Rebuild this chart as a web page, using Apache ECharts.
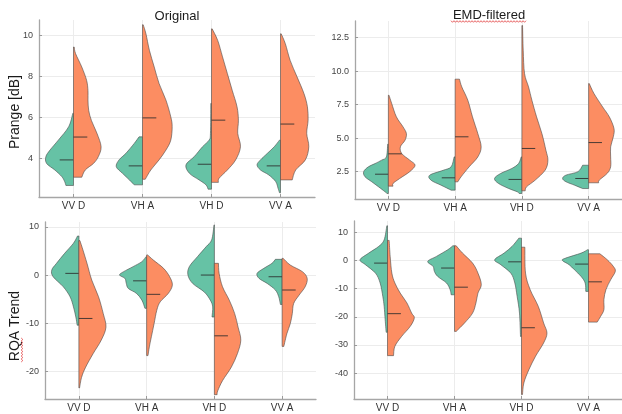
<!DOCTYPE html>
<html>
<head>
<meta charset="utf-8">
<script src="https://cdn.jsdelivr.net/npm/echarts@6/dist/echarts.min.js"></script>
<style>
  html, body { margin: 0; padding: 0; background: #fff; }
  #chart { width: 622px; height: 414px; }
</style>
</head>
<body>
<div id="chart"></div>
<script>
// ---- labels ----
const categories = ['VV D', 'VH A', 'VH D', 'VV A'];
const columnTitles = ['Original', 'EMD-filtered'];
const rowNames = ['Prange [dB]', 'RQA Trend'];

// ---- y tick values ----
const prangeOrigTicks = [4, 6, 8, 10];
const prangeEmdTicks = [2.5, 5, 7.5, 10, 12.5];
const rqaOrigTicks = [-20, -10, 0, 10];
const rqaEmdTicks = [-40, -30, -20, -10, 0, 10];

// ---- violin halves: [value, half width in category spacing], top to bottom ----
// Prange, original
const prangeOrigLeft = [
  [[6.2,0.01],[5.55,0.07],[4.9,0.22],[4.42,0.34],[4.1,0.40],[3.77,0.39],[3.45,0.27],[3.13,0.17],[2.9,0.13],[2.7,0.11]],
  [[5.06,0.05],[4.74,0.12],[4.26,0.24],[3.94,0.34],[3.61,0.38],[3.29,0.29],[2.97,0.19],[2.73,0.12]],
  [[6.68,0.01],[5.23,0.015],[4.9,0.035],[4.58,0.13],[4.1,0.25],[3.7,0.37],[3.29,0.32],[2.97,0.18],[2.73,0.08],[2.52,0.05]],
  [[4.9,0.015],[4.58,0.09],[4.26,0.19],[3.94,0.29],[3.7,0.34],[3.45,0.29],[3.21,0.17],[2.89,0.07],[2.56,0.035],[2.35,0.015]]
];
const prangeOrigRight = [
  [[9.42,0.01],[9.1,0.03],[8.45,0.12],[7.8,0.19],[7.3,0.21],[6.85,0.21],[6.35,0.22],[5.85,0.26],[5.23,0.34],[4.58,0.40],[4.1,0.36],[3.77,0.29],[3.45,0.17],[3.1,0.12]],
  [[10.5,0.01],[10.06,0.05],[9.26,0.10],[8.45,0.17],[7.65,0.24],[6.84,0.34],[6.03,0.41],[5.55,0.43],[4.9,0.41],[4.42,0.34],[3.94,0.24],[3.45,0.12],[3.0,0.04]],
  [[10.3,0.01],[9.74,0.09],[8.94,0.16],[8.13,0.23],[7.32,0.30],[6.52,0.37],[5.87,0.39],[5.23,0.38],[4.58,0.42],[3.94,0.35],[3.45,0.23],[3.05,0.11],[2.85,0.1]],
  [[10.06,0.01],[9.58,0.07],[8.77,0.14],[7.97,0.24],[7.16,0.34],[6.52,0.39],[5.87,0.40],[5.23,0.38],[4.58,0.41],[3.94,0.36],[3.45,0.22],[2.97,0.17]]
];
const prangeOrigLeftMedian = [3.94, 3.65, 3.73, 3.65];
const prangeOrigRightMedian = [5.05, 5.98, 5.87, 5.68];

// Prange, EMD-filtered
const prangeEmdLeft = [
  [[4.55,0.01],[3.6,0.03],[3.36,0.10],[3.1,0.20],[2.86,0.30],[2.5,0.37],[2.12,0.35],[1.75,0.25],[1.38,0.15],[1.0,0.05],[0.87,0.02]],
  [[3.6,0.015],[2.86,0.06],[2.6,0.18],[2.24,0.38],[1.86,0.36],[1.49,0.21],[1.12,0.06]],
  [[3.6,0.01],[3.1,0.05],[2.74,0.15],[2.36,0.32],[1.99,0.41],[1.62,0.35],[1.25,0.20],[1.0,0.07],[0.87,0.04]],
  [[2.98,0.09],[2.5,0.16],[2.24,0.34],[1.99,0.39],[1.75,0.34],[1.49,0.21],[1.24,0.09]]
];
const prangeEmdRight = [
  [[8.2,0.01],[7.58,0.05],[6.59,0.12],[5.84,0.22],[5.34,0.27],[4.85,0.25],[4.35,0.18],[3.85,0.20],[3.36,0.32],[2.98,0.40],[2.5,0.32],[1.99,0.17],[1.62,0.07],[1.42,0.07]],
  [[9.4,0.065],[8.82,0.10],[7.83,0.19],[6.59,0.26],[5.34,0.34],[4.35,0.39],[3.6,0.34],[2.86,0.21],[2.12,0.09],[1.74,0.04]],
  [[13.4,0.01],[11.56,0.02],[9.82,0.04],[8.82,0.10],[7.83,0.15],[6.59,0.22],[5.34,0.30],[4.1,0.36],[3.36,0.39],[2.62,0.35],[1.87,0.20],[1.37,0.07],[1.07,0.05]],
  [[9.07,0.01],[8.33,0.08],[7.33,0.21],[6.59,0.31],[5.72,0.38],[5.1,0.37],[4.35,0.33],[3.6,0.33],[2.86,0.33],[2.38,0.28],[1.87,0.16],[1.67,0.15]]
];
const prangeEmdLeftMedian = [2.31, 2.04, 1.92, 1.99];
const prangeEmdRightMedian = [3.83, 5.1, 4.23, 4.67];

// RQA trend, original
const rqaOrigLeft = [
  [[8.1,0.02],[6.6,0.08],[4.5,0.21],[2.43,0.33],[1.04,0.40],[-0.35,0.38],[-2.43,0.23],[-4.5,0.13],[-6.6,0.08],[-8.7,0.045],[-10.4,0.025]],
  [[3.8,0.01],[2.78,0.07],[1.74,0.20],[0.7,0.34],[0,0.40],[-0.7,0.32],[-1.74,0.30],[-2.78,0.27],[-3.8,0.15],[-5.2,0.07],[-6.9,0.025]],
  [[10.4,0.005],[7.3,0.04],[5.9,0.12],[3.8,0.25],[1.74,0.37],[0,0.39],[-1.74,0.32],[-3.5,0.15],[-5.2,0.06],[-6.6,0.025],[-8.7,0.035]],
  [[3.26,0.10],[2.43,0.15],[1.39,0.27],[0.35,0.37],[-0.7,0.34],[-1.74,0.22],[-3.1,0.10],[-4.5,0.05],[-6.1,0.025]]
];
const rqaOrigRight = [
  [[7.15,0.015],[5.2,0.06],[2.43,0.12],[-1.04,0.19],[-4.5,0.29],[-8.0,0.36],[-10.8,0.40],[-13.5,0.33],[-16.3,0.21],[-19.1,0.10],[-21.2,0.04],[-23.4,0.01]],
  [[4.17,0.015],[3.1,0.10],[1.39,0.25],[-0.35,0.34],[-2.08,0.38],[-3.8,0.32],[-5.56,0.20],[-7.3,0.15],[-10.1,0.11],[-12.8,0.07],[-14.9,0.04],[-16.7,0.02]],
  [[2.43,0.06],[0.35,0.07],[-2.43,0.12],[-5.2,0.22],[-8.0,0.30],[-10.8,0.35],[-13.5,0.39],[-16.3,0.34],[-19.1,0.25],[-21.9,0.12],[-24.0,0.05],[-24.8,0.04]],
  [[3.47,0.015],[2.08,0.12],[0.7,0.30],[-0.7,0.37],[-2.43,0.34],[-4.17,0.25],[-5.9,0.17],[-8.0,0.15],[-10.1,0.12],[-12.15,0.07],[-14.8,0.025]]
];
const rqaOrigLeftMedian = [0.35, -1.2, 0, -0.35];
const rqaOrigRightMedian = [-9.0, -4.0, -12.6, -3.1];

// RQA trend, EMD-filtered
const rqaEmdLeft = [
  [[12.3,0.01],[7.3,0.05],[5.0,0.13],[2.6,0.28],[0.24,0.41],[-1.5,0.33],[-4.5,0.18],[-8.0,0.11],[-12.8,0.07],[-16.3,0.05],[-21,0.035],[-25.5,0.02]],
  [[5.2,0.025],[3.8,0.10],[1.42,0.27],[-0.35,0.40],[-2.1,0.32],[-3.9,0.30],[-5.7,0.25],[-8.0,0.12],[-10.4,0.065],[-12.2,0.05]],
  [[7.9,0.04],[5.0,0.14],[2.6,0.26],[0.24,0.40],[-1.5,0.31],[-4.5,0.16],[-8.0,0.10],[-12.8,0.065],[-18.7,0.03],[-27,0.015]],
  [[3.8,0.015],[2.6,0.11],[0.83,0.34],[0,0.39],[-1.5,0.29],[-3.3,0.21],[-5.7,0.11],[-8.0,0.05],[-11,0.04]]
];
const rqaEmdRight = [
  [[7.1,0.025],[1.4,0.04],[-4.5,0.065],[-8.0,0.11],[-11.6,0.19],[-15.1,0.29],[-18.7,0.36],[-20.4,0.40],[-23.4,0.34],[-27,0.21],[-30.5,0.11],[-33.8,0.09]],
  [[5.2,0.025],[2.6,0.12],[-0.95,0.27],[-4.5,0.35],[-8.6,0.40],[-11.6,0.35],[-15.1,0.32],[-18.7,0.27],[-22.2,0.15],[-25.2,0.025]],
  [[4.7,0.05],[-4.5,0.06],[-10.4,0.13],[-16.3,0.25],[-22.2,0.33],[-25.8,0.38],[-29.3,0.33],[-34,0.21],[-38.8,0.11],[-43.5,0.035],[-47.6,0.015]],
  [[2.36,0.17],[0.24,0.28],[-2.1,0.37],[-3.9,0.40],[-6.9,0.33],[-10.4,0.26],[-13.9,0.23],[-17.5,0.23],[-19.9,0.18],[-21.9,0.13]]
];
const rqaEmdLeftMedian = [-0.95, -2.7, -0.5, -1.3];
const rqaEmdRightMedian = [-18.9, -9.5, -23.9, -7.6];

// ---- styling ----
const LEFT_COLOR = '#66c2a5';
const RIGHT_COLOR = '#fc8d62';
const MEDIAN_LEN = 0.2;
const FONT = 'Liberation Sans, Arial, sans-serif';

const panels = [
  { grid: { left: 39, top: 20, width: 276, height: 177 }, yMin: 2.14, yMax: 10.73, ticks: prangeOrigTicks, fmt: v => String(v),
    left: prangeOrigLeft, right: prangeOrigRight, leftMed: prangeOrigLeftMedian, rightMed: prangeOrigRightMedian,
    title: columnTitles[0], titleY: 16, yName: rowNames[0], nameX: 15, nameY: 112 },
  { grid: { left: 355, top: 21, width: 268, height: 178 }, yMin: 0.46, yMax: 13.74, ticks: prangeEmdTicks, fmt: v => v.toFixed(1),
    left: prangeEmdLeft, right: prangeEmdRight, leftMed: prangeEmdLeftMedian, rightMed: prangeEmdRightMedian,
    title: columnTitles[1], titleY: 15 },
  { grid: { left: 45, top: 222, width: 271, height: 177 }, yMin: -25.7, yMax: 11, ticks: rqaOrigTicks, fmt: v => String(v),
    left: rqaOrigLeft, right: rqaOrigRight, leftMed: rqaOrigLeftMedian, rightMed: rqaOrigRightMedian,
    yName: rowNames[1], nameX: 15, nameY: 326 },
  { grid: { left: 354, top: 221, width: 269, height: 178 }, yMin: -49.2, yMax: 14, ticks: rqaEmdTicks, fmt: v => String(v),
    left: rqaEmdLeft, right: rqaEmdRight, leftMed: rqaEmdLeftMedian, rightMed: rqaEmdRightMedian }
];

// Smooth half-violin outline through profile points (Catmull-Rom -> cubic Bezier)
function halfViolinRenderer(profiles, medians, side, color) {
  return function (params, api) {
    const i = params.dataIndex;
    const prof = profiles[i];
    const cx = i + 1;
    const c0 = api.coord([cx, prof[0][0]]);
    const centerPx = c0[0];
    const pts = prof.map(([v, w]) => api.coord([cx + side * w, v]));
    const bot = api.coord([cx, prof[prof.length - 1][0]]);
    const clampX = x => side < 0 ? Math.min(x, centerPx) : Math.max(x, centerPx);
    let d = 'M' + c0[0] + ',' + c0[1] + 'L' + pts[0][0] + ',' + pts[0][1];
    for (let k = 0; k < pts.length - 1; k++) {
      const p0 = pts[k - 1] || pts[k], p1 = pts[k], p2 = pts[k + 1], p3 = pts[k + 2] || pts[k + 1];
      const a = [clampX(p1[0] + (p2[0] - p0[0]) / 6), p1[1] + (p2[1] - p0[1]) / 6];
      const b = [clampX(p2[0] - (p3[0] - p1[0]) / 6), p2[1] - (p3[1] - p1[1]) / 6];
      d += 'C' + a[0] + ',' + a[1] + ',' + b[0] + ',' + b[1] + ',' + p2[0] + ',' + p2[1];
    }
    d += 'L' + bot[0] + ',' + bot[1] + 'Z';
    const m0 = api.coord([cx, medians[i]]);
    const m1 = api.coord([cx + side * MEDIAN_LEN, medians[i]]);
    return {
      type: 'group',
      children: [
        { type: 'path', shape: { pathData: d },
          style: { fill: color, stroke: '#4a4a4a', lineWidth: 0.6 } },
        { type: 'line', shape: { x1: m0[0], y1: m0[1], x2: m1[0], y2: m1[1] },
          style: { stroke: '#2b2b2b', lineWidth: 1, opacity: 0.85 } }
      ]
    };
  };
}

const grids = [], xAxes = [], yAxes = [], series = [], graphics = [];
const axisLineStyle = { color: '#a6a6a6', width: 1.3 };
const gridLineStyle = { color: '#ececec', width: 1 };

panels.forEach((p, gi) => {
  grids.push(p.grid);
  xAxes.push({
    gridIndex: gi, type: 'value', min: 0.5, max: 4.5,
    axisLine: { show: true, onZero: false, lineStyle: axisLineStyle },
    axisTick: { show: true, inside: true, length: 3, customValues: [1, 2, 3, 4], lineStyle: { color: '#9a9a9a' } },
    axisLabel: { customValues: [1, 2, 3, 4], formatter: v => categories[Math.round(v) - 1], color: '#333',
      fontFamily: FONT, fontSize: 10, margin: 4 },
    splitLine: { show: true, lineStyle: gridLineStyle }
  });
  yAxes.push({
    gridIndex: gi, type: 'value', min: p.yMin, max: p.yMax,
    axisLine: { show: true, lineStyle: axisLineStyle },
    axisTick: { show: true, inside: true, length: 3, customValues: p.ticks, lineStyle: { color: '#9a9a9a' } },
    axisLabel: { customValues: p.ticks, formatter: p.fmt, color: '#444', fontFamily: FONT, fontSize: 9, margin: 6 },
    splitLine: { show: true, lineStyle: gridLineStyle }
  });
  [[p.left, p.leftMed, -1, LEFT_COLOR], [p.right, p.rightMed, 1, RIGHT_COLOR]].forEach(([prof, med, side, color]) => {
    series.push({
      type: 'custom', xAxisIndex: gi, yAxisIndex: gi, clip: true,
      renderItem: halfViolinRenderer(prof, med, side, color),
      data: categories.map((c, i) => [i + 1, med[i]]),
      silent: true
    });
  });
  if (p.title) {
    graphics.push({
      type: 'text', x: p.grid.left + p.grid.width / 2, y: p.titleY,
      style: { text: p.title, fontFamily: FONT, fontSize: 13, fill: '#1a1a1a', align: 'center', verticalAlign: 'middle' }
    });
  }
  if (p.yName) {
    graphics.push({
      type: 'text', x: p.nameX, y: p.nameY, rotation: Math.PI / 2,
      style: { text: p.yName, fontFamily: FONT, fontSize: 14, fill: '#1a1a1a', align: 'center', verticalAlign: 'middle' }
    });
  }
});

// spell-check style wavy underlines
function wave(x0, y0, len, vertical) {
  const pts = [];
  for (let t = 0; t <= len; t += 1.5) {
    const off = (Math.round(t / 1.5) % 2 === 0) ? -0.8 : 0.8;
    pts.push(vertical ? [x0 + off, y0 - t] : [x0 + t, y0 + off]);
  }
  return { type: 'polyline', shape: { points: pts }, style: { stroke: '#e23c3c', lineWidth: 0.8, fill: null }, z: 10 };
}
graphics.push(wave(451, 21.5, 75, false));
graphics.push(wave(22, 362, 24, true));

const chart = echarts.init(document.getElementById('chart'), null, { renderer: 'canvas' });
chart.setOption({
  animation: false,
  backgroundColor: '#fff',
  grid: grids,
  xAxis: xAxes,
  yAxis: yAxes,
  series: series,
  graphic: graphics
});
</script>
</body>
</html>
